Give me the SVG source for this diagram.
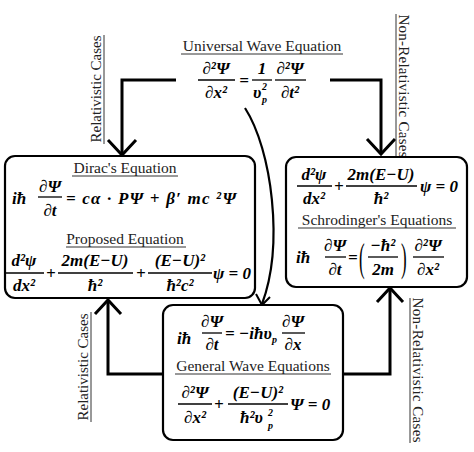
<svg xmlns="http://www.w3.org/2000/svg" width="474" height="452" viewBox="0 0 474 452">
<defs>
<style>
.m{font-family:"Liberation Serif",serif;font-weight:bold;font-style:italic;font-size:17px;fill:#000}
.s{font-size:10px}
.p{font-style:normal;font-weight:normal}
.c{text-anchor:middle}
.t{font-family:"Liberation Serif",serif;font-size:15.5px;fill:#222}
.lb{font-family:"Liberation Serif",serif;font-size:15px;fill:#222}
.fr{stroke:#000;stroke-width:1.3}
.ul{stroke:#333;stroke-width:1}
.box{fill:#fff;stroke:#000;stroke-width:2.2}
.cn{fill:none;stroke:#000;stroke-width:3;stroke-linejoin:miter}
.ah{fill:none;stroke:#000;stroke-width:3}
</style>
</defs>
<rect width="474" height="452" fill="#fff"/>

<g id="connectors">
<polyline class="cn" points="176,80 122,80 122,154"/>
<polyline class="ah" points="108,140 122,155 136,140"/>
<polyline class="cn" points="330,80 381,80 381,153"/>
<polyline class="ah" points="367,139 381,154 395,139"/>
<polyline class="cn" points="163,374 108,374 108,301"/>
<polyline class="ah" points="95,314 108,300 121,314"/>
<polyline class="cn" points="343,374 390,374 390,289"/>
<polyline class="ah" points="377,302 390,288 403,302"/>
<path class="cn" style="stroke-width:2.2" d="M245,108 C272,150 284,245 262,304"/>
<polyline class="ah" style="stroke-width:2" points="256,294 262,305 270,297"/>
</g>

<g id="label-rel-top">
<text class="lb c" transform="translate(101,89) rotate(-90)">Relativistic Cases</text>
<line class="ul" x1="104" y1="35" x2="104" y2="144"/>
</g>
<g id="label-nonrel-top">
<text class="lb c" transform="translate(399,86) rotate(90)" textLength="143">Non-Relativistic Cases</text>
<line class="ul" x1="396" y1="14" x2="396" y2="157"/>
</g>
<g id="label-rel-bottom">
<text class="lb c" transform="translate(88,367) rotate(-90)">Relativistic Cases</text>
<line class="ul" x1="91" y1="312" x2="91" y2="422"/>
</g>
<g id="label-nonrel-bottom">
<text class="lb c" transform="translate(413,370) rotate(90)" textLength="145">Non-Relativistic Cases</text>
<line class="ul" x1="410" y1="298" x2="410" y2="443"/>
</g>

<g id="universal">
<text class="t c" x="262" y="51">Universal Wave Equation</text>
<line class="ul" x1="181" y1="54" x2="343" y2="54"/>
<text class="m c" x="216" y="74">∂²Ψ</text>
<line class="fr" x1="198" y1="80" x2="235" y2="80"/>
<text class="m c" x="216" y="98">∂x²</text>
<text class="m c" x="244" y="86">=</text>
<text class="m c" x="262" y="74">1</text>
<line class="fr" x1="252" y1="80" x2="272" y2="80"/>
<text class="m" x="253" y="98">υ</text>
<text class="m s" x="262" y="90">2</text>
<text class="m s" x="262" y="103">p</text>
<text class="m c" x="290" y="74">∂²Ψ</text>
<line class="fr" x1="275" y1="80" x2="306" y2="80"/>
<text class="m c" x="290" y="98">∂t²</text>
</g>

<g id="dirac">
<rect class="box" x="5" y="156" width="250" height="142" rx="10"/>
<text class="t c" x="125" y="173">Dirac's Equation</text>
<line class="ul" x1="72" y1="176" x2="178" y2="176"/>
<text class="m" x="12" y="204">iħ</text>
<text class="m c" x="50" y="192">∂Ψ</text>
<line class="fr" x1="38" y1="197" x2="62" y2="197"/>
<text class="m c" x="50" y="216">∂t</text>
<text class="m" x="66" y="204" textLength="170">= cα · PΨ + β′ mc ²Ψ</text>
<text class="t c" x="125" y="244">Proposed Equation</text>
<line class="ul" x1="66" y1="247" x2="186" y2="247"/>
<text class="m c" x="24" y="266">d²ψ</text>
<line class="fr" x1="6" y1="273" x2="44" y2="273"/>
<text class="m c" x="24" y="291">dx²</text>
<text class="m" x="46" y="279">+</text>
<text class="m c" x="95" y="266">2m(E−U)</text>
<line class="fr" x1="58" y1="273" x2="133" y2="273"/>
<text class="m c" x="95" y="291">ħ²</text>
<text class="m" x="136" y="279">+</text>
<text class="m c" x="180" y="266">(E−U)²</text>
<line class="fr" x1="148" y1="273" x2="212" y2="273"/>
<text class="m c" x="180" y="291">ħ²c²</text>
<text class="m" x="213" y="279">ψ = 0</text>
</g>

<g id="schrodinger">
<rect class="box" x="286" y="157" width="181" height="130" rx="10"/>
<text class="m c" x="314" y="180">d²ψ</text>
<line class="fr" x1="297" y1="186" x2="332" y2="186"/>
<text class="m c" x="314" y="204">dx²</text>
<text class="m" x="334" y="192">+</text>
<text class="m c" x="381" y="180">2m(E−U)</text>
<line class="fr" x1="346" y1="186" x2="417" y2="186"/>
<text class="m c" x="381" y="204">ħ²</text>
<text class="m" x="420" y="192">ψ = 0</text>
<text class="t c" x="377" y="225">Schrodinger's Equations</text>
<line class="ul" x1="298" y1="228" x2="456" y2="228"/>
<text class="m" x="296" y="263">iħ</text>
<text class="m c" x="335" y="251">∂Ψ</text>
<line class="fr" x1="325" y1="257" x2="346" y2="257"/>
<text class="m c" x="335" y="275">∂t</text>
<text class="m" x="348" y="263">=</text>
<text class="m p" transform="translate(359,271) scale(1,2.3)">(</text>
<text class="m c" x="383" y="251">−ħ²</text>
<line class="fr" x1="368" y1="257" x2="398" y2="257"/>
<text class="m c" x="383" y="275">2m</text>
<text class="m p" transform="translate(401,271) scale(1,2.3)">)</text>
<text class="m c" x="428" y="251">∂²Ψ</text>
<line class="fr" x1="413" y1="257" x2="444" y2="257"/>
<text class="m c" x="428" y="275">∂x²</text>
</g>

<g id="general">
<rect class="box" x="163" y="305" width="180" height="135" rx="10"/>
<text class="m" x="177" y="344">iħ</text>
<text class="m c" x="212" y="327">∂Ψ</text>
<line class="fr" x1="202" y1="333" x2="222" y2="333"/>
<text class="m c" x="212" y="350">∂t</text>
<text class="m" x="225" y="339">= −iħυ</text>
<text class="m s" x="272" y="343">p</text>
<text class="m c" x="293" y="327">∂Ψ</text>
<line class="fr" x1="282" y1="333" x2="305" y2="333"/>
<text class="m c" x="293" y="350">∂x</text>
<text class="t c" x="253" y="371">General Wave Equations</text>
<line class="ul" x1="175" y1="374" x2="331" y2="374"/>
<text class="m c" x="195" y="398">∂²Ψ</text>
<line class="fr" x1="178" y1="404" x2="212" y2="404"/>
<text class="m c" x="195" y="423">∂x²</text>
<text class="m" x="214" y="410">+</text>
<text class="m c" x="258" y="398">(E−U)²</text>
<line class="fr" x1="228" y1="404" x2="288" y2="404"/>
<text class="m" x="240" y="423">ħ²υ</text>
<text class="m s" x="268" y="416">2</text>
<text class="m s" x="268" y="429">p</text>
<text class="m" x="290" y="410">Ψ = 0</text>
</g>
</svg>
